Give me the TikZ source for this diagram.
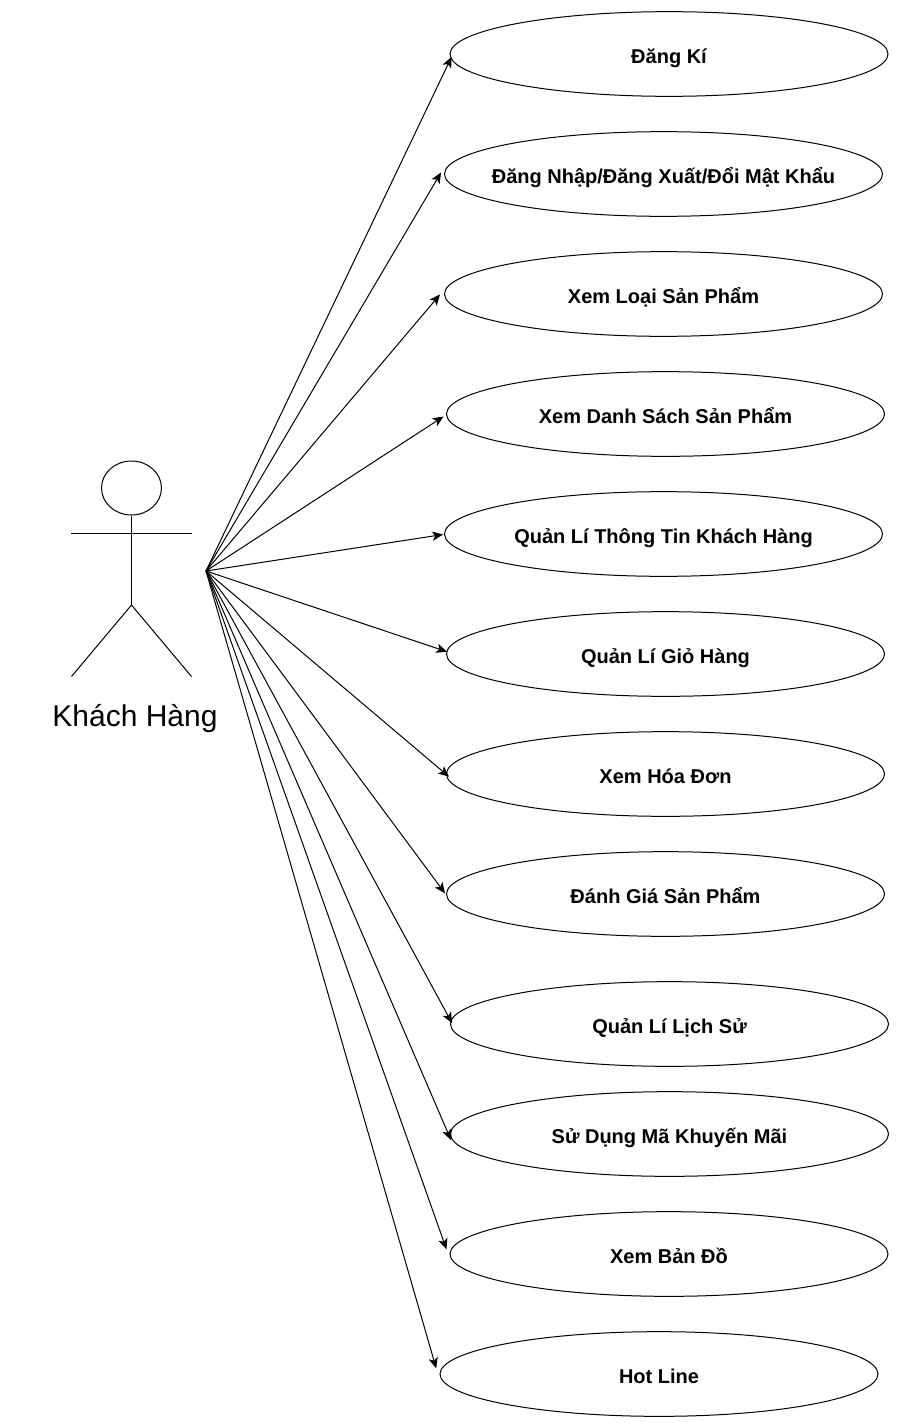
\documentclass[tikz,border=0pt]{standalone}
\usepackage{fontspec}
\setmainfont{Liberation Sans}
\usetikzlibrary{shapes.geometric,arrows.meta}

\begin{document}
\begin{tikzpicture}[x=0.75pt, y=-0.75pt, line width=0.75pt, >={Stealth[length=8pt,width=7pt,inset=2pt]},
    usecase/.style={ellipse, draw, minimum width=328.5pt, minimum height=63.5pt, inner xsep=-40pt, inner ysep=0pt, font=\bfseries\fontsize{15}{18}\selectfont, text height=15.5pt, text depth=1pt}]
        \useasboundingbox (0,0) rectangle (900,1424);

        % Actor
        \node (head) [ellipse, draw, minimum width=45pt, minimum height=40.5pt, inner sep=0pt] at (131.5,488) {};
        \coordinate (hip) at (131.5,605);
        \coordinate (armL) at (71,533);
        \coordinate (armR) at (191.5,533);
        \coordinate (footL) at (71.5,676.5);
        \coordinate (footR) at (191.5,676.5);
        \coordinate (actor) at (206,571);
        \node (name) [font=\fontsize{22.5}{26}\selectfont] at (135,719) {Khách Hàng};
        \draw (head) -- (hip);
        \draw (armL) -- (armR);
        \draw (footL) -- (hip) -- (footR);

        % Nodes
        \node (dangki) [usecase] at (669,54) {Đăng Kí};
        \node (dangnhap) [usecase] at (663.5,174) {Đăng Nhập/Đăng Xuất/Đổi Mật Khẩu};
        \node (loaisp) [usecase] at (663.5,294) {Xem Loại Sản Phẩm};
        \node (danhsach) [usecase] at (665.5,414) {Xem Danh Sách Sản Phẩm};
        \node (thongtin) [usecase] at (663.5,534) {Quản Lí Thông Tin Khách Hàng};
        \node (giohang) [usecase] at (665.5,654) {Quản Lí Giỏ Hàng};
        \node (hoadon) [usecase] at (665.5,774) {Xem Hóa Đơn};
        \node (danhgia) [usecase] at (665.5,894) {Đánh Giá Sản Phẩm};
        \node (lichsu) [usecase] at (669.5,1024) {Quản Lí Lịch Sử};
        \node (khuyenmai) [usecase] at (669.5,1134) {Sử Dụng Mã Khuyến Mãi};
        \node (bando) [usecase] at (669,1254) {Xem Bản Đồ};
        \node (hotline) [usecase] at (659,1374) {Hot Line};

        % Edges
        \draw[->] (actor) -- ([shift={(2,3)}]dangki.west);
        \draw[->] (actor) -- ([shift={(-3,-1.5)}]dangnhap.west);
        \draw[->] (actor) -- ([shift={(-4,0.5)}]loaisp.west);
        \draw[->] (actor) -- ([shift={(-2.5,2.5)}]danhsach.west);
        \draw[->] (actor) -- ([shift={(-1,0.5)}]thongtin.west);
        \draw[->] (actor) -- ([shift={(1,-2.3)}]giohang.west);
        \draw[->] (actor) -- ([shift={(3,2.7)}]hoadon.west);
        \draw[->] (actor) -- ([shift={(-1,-0.7)}]danhgia.west);
        \draw[->] (actor) -- ([shift={(2,-1)}]lichsu.west);
        \draw[->] (actor) -- ([shift={(1,6)}]khuyenmai.west);
        \draw[->] (actor) -- ([shift={(-3,-4.7)}]bando.west);
        \draw[->] (actor) -- ([shift={(-3.3,-5.7)}]hotline.west);
    \end{tikzpicture}
\end{document}
